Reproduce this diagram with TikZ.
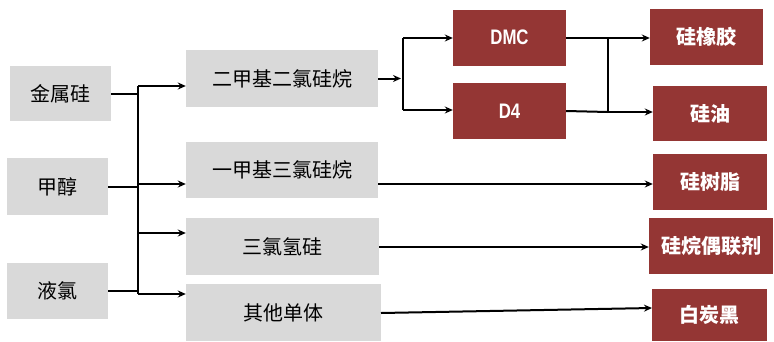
\documentclass[tikz,border=0pt]{standalone}
\usepackage{fontspec}
\setmainfont{Liberation Sans}
\newfontfamily\cjk{Noto Sans CJK SC}
\usetikzlibrary{arrows.meta,calc}
\definecolor{boxgray}{HTML}{D9D9D9}
\definecolor{boxred}{HTML}{943634}
\tikzset{
  graybox/.style={fill=boxgray, draw=none, inner sep=0pt, font=\cjk\fontsize{20}{22}\selectfont, text=black},
  redbox/.style={fill=boxred, draw=none, inner sep=0pt, font=\cjk\bfseries\fontsize{20}{22}\selectfont, text=white},
  conn/.style={line width=2pt, black},
  arr/.style={conn, -{Stealth[length=8pt,width=7pt]}},
}
\begin{document}
\begin{tikzpicture}[x=1pt,y=-1pt]
\useasboundingbox (0,0) rectangle (774,341);
% left column
\node[graybox, minimum width=101pt, minimum height=55pt] (jsg) at (60.5,93.5) {金属硅};
\node[graybox, minimum width=101pt, minimum height=57pt] (jc) at (57.5,186.5) {甲醇};
\node[graybox, minimum width=101pt, minimum height=56pt] (yl) at (57.5,291) {液氯};
% middle column
\node[graybox, minimum width=192pt, minimum height=57pt] (m1) at (282,78.5) {二甲基二氯硅烷};
\node[graybox, minimum width=192pt, minimum height=56pt] (m2) at (282,170) {一甲基三氯硅烷};
\node[graybox, minimum width=193pt, minimum height=57pt] (m3) at (282.5,246.5) {三氯氢硅};
\node[graybox, minimum width=195pt, minimum height=57pt] (m4) at (283.5,312.5) {其他单体};
% DMC / D4
\node[redbox, minimum width=113pt, minimum height=56pt, font=\bfseries\fontsize{21}{23}\selectfont] (dmc) at (509.5,37.5) {\scalebox{0.8}[1]{DMC}};
\node[redbox, minimum width=113pt, minimum height=56pt, font=\bfseries\fontsize{21}{23}\selectfont] (d4) at (509.5,111) {\scalebox{0.8}[1]{D4}};
% products
\node[redbox, minimum width=113pt, minimum height=56pt] (r1) at (706.5,37) {硅橡胶};
\node[redbox, minimum width=114pt, minimum height=55pt] (r2) at (710,113.5) {硅油};
\node[redbox, minimum width=114pt, minimum height=56pt] (r3) at (710,182) {硅树脂};
\node[redbox, minimum width=124pt, minimum height=56pt] (r4) at (711,246) {硅烷偶联剂};
\node[redbox, minimum width=115pt, minimum height=52pt] (r5) at (709.5,315) {白炭黑};
% left bus
\coordinate (bA) at (138,86);
\coordinate (bB) at (138,184);
\coordinate (bC) at (138,233);
\coordinate (bD) at (138,294);
\draw[conn] (bA) -- (bD);
\draw[conn] (jsg.east) -- (jsg.east -| bA);
\draw[conn] (jc.east) -- (jc.east -| bA);
\draw[conn] (yl.east) -- (yl.east -| bA);
\draw[arr] (bA) -- (bA -| m1.west);
\draw[arr] (bB) -- (bB -| m2.west);
\draw[arr] (bC) -- (bC -| m3.west);
\draw[arr] (bD) -- (bD -| m4.west);
% DMC/D4 bus
\coordinate (cT) at (403,38);
\coordinate (cB) at (403,110);
\draw[arr] (m1.east) -- (401,78.5);
\draw[conn] (cT) -- (cB);
\draw[arr] (cT) -- (cT -| dmc.west);
\draw[arr] (cB) -- (cB -| d4.west);
% products bus
\coordinate (pT) at (608,38);
\coordinate (pB) at (608,112);
\draw[arr] (dmc.east |- pT) -- (pT -| r1.west);
\draw[conn] (pT) -- (pB);
\draw[conn] (d4.east) -- (pB);
\draw[arr] (pB) -- (pB -| r2.west);
% direct lines
\coordinate (q2) at (378,184);
\coordinate (q3) at (379,247);
\coordinate (q4) at (381,313);
\coordinate (q5) at (652,308);
\draw[arr] (q2) -- (q2 -| r3.west);
\draw[arr] (q3) -- (q3 -| r4.west);
\draw[arr] (q4) -- (q5);
\end{tikzpicture}
\end{document}
